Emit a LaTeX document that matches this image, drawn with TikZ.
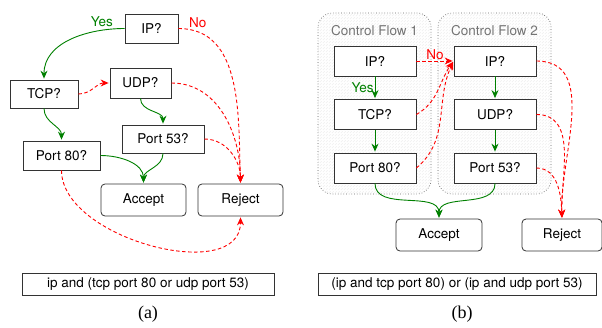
\documentclass[tikz,border=0pt]{standalone}
\usepackage{fontspec}
\setsansfont{TeX Gyre Heros}
\newfontfamily\capfont{Liberation Serif}
\usetikzlibrary{arrows.meta,patterns}

\begin{document}
\begin{tikzpicture}[x=1pt,y=1pt,>={Stealth[length=8pt,width=7pt]},shorten >=1pt,node distance=53.5pt,
    font=\sffamily\fontsize{13.5}{15}\selectfont,
    test/.style={draw=black!80,fill=white,line width=0.8pt,minimum height=29pt,inner sep=2pt},
    verdict/.style={test,rounded corners=4pt,minimum width=85pt,minimum height=32pt},
    yes/.style={->,color=green!50!black,line width=0.9pt},
    no/.style={->,color=red,dash pattern=on 3.5pt off 2.5pt,line width=0.9pt},
    flow/.style={draw=black!60,dotted,line width=0.7pt,rounded corners=14pt,pattern=north east lines,pattern color=gray!30},
    filter/.style={draw=black!80,line width=0.7pt,minimum height=22pt,inner sep=1pt}]
  \useasboundingbox (0,0) rectangle (602,-327);

  % (a) one control flow
  \node[test,minimum width=53pt] (ipa)  at (151.5,-28.5) {IP?};
  \node[test,minimum width=68pt,minimum height=28pt] (tcpa) at (44,-94)   {TCP?};
  \node[test,minimum width=61pt,minimum height=30pt] (udpa) at (140.5,-83) {UDP?};
  \node[test,minimum width=82pt,minimum height=28pt] (p53a) at (163,-139) {Port 53?};
  \node[test,minimum width=77pt] (p80a) at (61.5,-155.5) {Port 80?};
  \node[verdict] (acca) at (143.5,-200) {Accept};
  \node[verdict] (reja) at (240.5,-200) {Reject};

  \path[yes] (ipa.west)  edge[out=180,in=90] node[pos=0.2,above] {Yes} (tcpa.north);
  \path[yes] (tcpa.south) edge[out=-90,in=90] (p80a.north);
  \path[yes] (udpa.south) edge[out=-90,in=90] (p53a.north);
  \path[yes] (p80a.east)  edge[out=0,in=90]   (acca.north);
  \path[yes] (p53a.south) edge[out=-90,in=90] (acca.north);

  \path[no] (ipa.east)   edge[out=0,in=92] node[pos=0.05,above right,inner sep=1pt] {No} (reja.north);
  \path[no] (tcpa.east)  edge[out=0,in=180] (udpa.west);
  \path[no] (udpa.east)  edge[out=0,in=90]  (reja.north);
  \path[no] (p53a.east)  edge[out=0,in=90]  (reja.north);
  \path[no] (p80a.south) edge[out=-90,in=-90,looseness=0.95] (reja.south);

  \node[filter,minimum width=252pt] (fa) at (148,-284) {ip and (tcp port 80 or udp port 53)};
  \node[font=\capfont\fontsize{18}{20}\selectfont] (capa) at (148,-314) {(a)};

  % (b) two control flows
  \draw[flow] (318,-13) rectangle (431,-194);
  \draw[flow] (438,-13) rectangle (551,-194);
  \node[text=black!55] (cf1) at (374.5,-31) {Control Flow 1};
  \node[text=black!55] (cf2) at (494.5,-31) {Control Flow 2};

  \node[test,minimum width=82pt,minimum height=30pt] (ipb1) at (375,-61) {IP?};
  \node[test,minimum width=82pt,minimum height=30pt] (tcpb1) [below of=ipb1] {TCP?};
  \node[test,minimum width=82pt,minimum height=30pt] (p80b1) [below of=tcpb1] {Port 80?};
  \node[test,minimum width=82pt,minimum height=30pt] (ipb2) at (495,-61) {IP?};
  \node[test,minimum width=82pt,minimum height=30pt] (udpb2) [below of=ipb2] {UDP?};
  \node[test,minimum width=82pt,minimum height=30pt] (p53b2) [below of=udpb2] {Port 53?};
  \node[verdict,minimum width=86pt] (accb) at (439,-235) {Accept};
  \node[verdict,minimum width=80pt] (rejb) at (562,-235) {Reject};

  \path[yes] (ipb1)  edge node[left,inner sep=1pt] {Yes} (tcpb1);
  \path[yes] (tcpb1) edge (p80b1);
  \path[yes] (ipb2)  edge (udpb2);
  \path[yes] (udpb2) edge (p53b2);
  \path[yes] (p80b1.south) edge[out=-90,in=90] (accb.north);
  \path[yes] (p53b2.south) edge[out=-90,in=90] (accb.north);

  \path[no] (ipb1)  edge node[above,inner sep=1pt] {No} (ipb2);
  \path[no] (tcpb1.east) edge[out=30,in=235] (ipb2.west);
  \path[no] (p80b1.east) edge[out=40,in=245] (ipb2.west);
  \path[no] (ipb2.east)  edge[out=0,in=92] (rejb.north);
  \path[no] (udpb2.east) edge[out=0,in=92] (rejb.north);
  \path[no] (p53b2.east) edge[out=0,in=92] (rejb.north);

  \node[filter,minimum width=278pt] (fb) at (457,-284) {(ip and tcp port 80) or (ip and udp port 53)};
  \node[font=\capfont\fontsize{18}{20}\selectfont] (capb) at (462,-314) {(b)};
\end{tikzpicture}
\end{document}
